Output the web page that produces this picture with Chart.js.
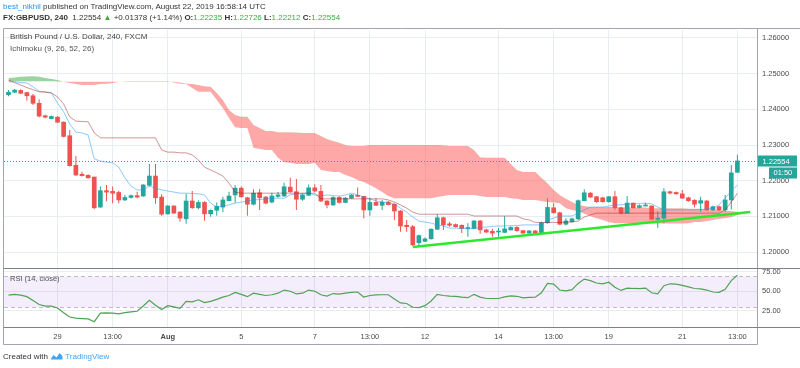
<!DOCTYPE html>
<html lang="en">
<head>
    <meta charset="UTF-8">
    <title>GBPUSD 240 - Ichimoku / RSI</title>
    <script src="https://cdn.jsdelivr.net/npm/chart.js"></script>
    <style>
        body { margin: 0; background: #fff; font-family: 'Liberation Sans', Arial, sans-serif; }
        #wrap { position: relative; width: 800px; height: 368px; overflow: hidden; background: #fff; }
        #chart { position: absolute; left: 0; top: 0; }
        .txt { position: absolute; font-size: 8px; line-height: 10px; white-space: nowrap; color: #333; }
        .g { color: #37b03c; }
        .b { font-weight: bold; }
    </style>
</head>
<body>
<div id="wrap">
    <canvas id="chart" width="800" height="368"></canvas>
    <div class="txt" style="left:3px;top:2px"><span style="color:#2196f3">best_nikhil</span> published on TradingView.com, August 22, 2019 16:58:14 UTC</div>
    <div class="txt" style="left:3px;top:13px"><span class="b">FX:GBPUSD, 240</span>&nbsp; 1.22554 <span class="g">&#9650;</span> +0.01378 (+1.14%) <span class="b">O:</span><span class="g">1.22235</span> <span class="b">H:</span><span class="g">1.22726</span> <span class="b">L:</span><span class="g">1.22212</span> <span class="b">C:</span><span class="g">1.22554</span></div>
    <div class="txt" style="left:10px;top:32px;color:#444">British Pound / U.S. Dollar, 240, FXCM</div>
    <div class="txt" style="left:10px;top:44px;color:#555">Ichimoku (9, 26, 52, 26)</div>
    <div class="txt" style="left:10px;top:274px;color:#555;font-size:7.5px">RSI (14, close)</div>
    <div class="txt" style="left:3px;top:352px">Created with <svg width="13" height="8" viewBox="0 0 13 8" style="vertical-align:-1px"><path d="M0.5 7.5 L3.5 3 L6.5 5.5 L9.5 1 L12.5 4 L12.5 7.5 Z" fill="#42a5f5"/></svg> <span style="color:#42a5f5">TradingView</span></div>
</div>

<script>
    // 4h candles, FX:GBPUSD (index 0 = 25 Jul, last = 22 Aug 13:00)
    const opens = [
        1.2441, 1.2448, 1.2453, 1.2447, 1.2438, 1.2417, 1.2382, 1.2374, 1.2378, 1.2364,
        1.2326, 1.2243, 1.2218, 1.2215, 1.2210, 1.2126, 1.2172, 1.2170, 1.2167, 1.2146,
        1.2153, 1.2158, 1.2157, 1.2187, 1.2213, 1.2154, 1.2107, 1.2129, 1.2112, 1.2093,
        1.2143, 1.2124, 1.2139, 1.2107, 1.2117, 1.2126, 1.2144, 1.2160, 1.2179, 1.2152,
        1.2134, 1.2166, 1.2154, 1.2140, 1.2156, 1.2157, 1.2182, 1.2169, 1.2148, 1.2159,
        1.2180, 1.2170, 1.2143, 1.2132, 1.2153, 1.2139, 1.2151, 1.2159, 1.2156, 1.2118,
        1.2139, 1.2131, 1.2140, 1.2134, 1.2115, 1.2075, 1.2071, 1.2026, 1.2030, 1.2037,
        1.2064, 1.2096, 1.2079, 1.2077, 1.2075, 1.2066, 1.2066, 1.2087, 1.2062, 1.2058,
        1.2056, 1.2055, 1.2062, 1.2069, 1.2060, 1.2053, 1.2059, 1.2053, 1.2082, 1.2124,
        1.2110, 1.2078, 1.2085, 1.2093, 1.2144, 1.2165, 1.2155, 1.2152, 1.2141, 1.2155,
        1.2124, 1.2109, 1.2137, 1.2125, 1.2129, 1.2129, 1.2092, 1.2095, 1.2169, 1.2167,
        1.2163, 1.2152, 1.2145, 1.2137, 1.2143, 1.2118, 1.2127, 1.2118, 1.2146, 1.22235
    ];
    const highs = [
        1.2454, 1.2457, 1.2456, 1.2449, 1.2443, 1.2428, 1.2385, 1.2383, 1.2381, 1.2366,
        1.2342, 1.2269, 1.2225, 1.2218, 1.2212, 1.2184, 1.2188, 1.2184, 1.2172, 1.2160,
        1.2161, 1.2169, 1.2190, 1.2247, 1.2247, 1.2162, 1.2132, 1.2131, 1.2114, 1.2163,
        1.2171, 1.2145, 1.2142, 1.2119, 1.2139, 1.2155, 1.2169, 1.2188, 1.2184, 1.2155,
        1.2176, 1.2177, 1.2157, 1.2166, 1.2168, 1.2194, 1.2208, 1.2205, 1.2163, 1.2189,
        1.2190, 1.2188, 1.2145, 1.2156, 1.2156, 1.2154, 1.2162, 1.2181, 1.2158, 1.2152,
        1.2151, 1.2146, 1.2143, 1.2136, 1.2117, 1.2090, 1.2076, 1.2049, 1.2041, 1.2066,
        1.2106, 1.2099, 1.2085, 1.2080, 1.2077, 1.2081, 1.2090, 1.2090, 1.2065, 1.2065,
        1.2067, 1.2100, 1.2072, 1.2072, 1.2062, 1.2062, 1.2062, 1.2085, 1.2151, 1.2137,
        1.2113, 1.2095, 1.2096, 1.2147, 1.2176, 1.2168, 1.2157, 1.2155, 1.2157, 1.2171,
        1.2127, 1.2157, 1.2139, 1.2133, 1.2138, 1.2131, 1.2114, 1.2179, 1.2172, 1.2170,
        1.2174, 1.2155, 1.2148, 1.2155, 1.2146, 1.2130, 1.2130, 1.2160, 1.2244, 1.22726
    ];
    const lows = [
        1.2437, 1.2446, 1.2443, 1.2424, 1.2412, 1.2378, 1.2375, 1.2372, 1.2362, 1.2322,
        1.2240, 1.2213, 1.2212, 1.2206, 1.2120, 1.2124, 1.2142, 1.2137, 1.2137, 1.2143,
        1.2150, 1.2151, 1.2155, 1.2184, 1.2135, 1.2102, 1.2105, 1.2107, 1.2085, 1.2079,
        1.2121, 1.2120, 1.2088, 1.2099, 1.2102, 1.2112, 1.2142, 1.2138, 1.2152, 1.2102,
        1.2131, 1.2118, 1.2134, 1.2137, 1.2152, 1.2155, 1.2166, 1.2118, 1.2144, 1.2157,
        1.2168, 1.2140, 1.2123, 1.2130, 1.2136, 1.2137, 1.2149, 1.2154, 1.2095, 1.2102,
        1.2129, 1.2118, 1.2131, 1.2090, 1.2057, 1.2057, 1.2017, 1.2017, 1.2028, 1.2035,
        1.2062, 1.2062, 1.2071, 1.2069, 1.2053, 1.2043, 1.2064, 1.2051, 1.2053, 1.2043,
        1.2043, 1.2053, 1.2060, 1.2057, 1.2051, 1.2051, 1.2051, 1.2051, 1.2079, 1.2108,
        1.2075, 1.2074, 1.2083, 1.2090, 1.2142, 1.2152, 1.2138, 1.2139, 1.2139, 1.2118,
        1.2106, 1.2107, 1.2122, 1.2123, 1.2128, 1.2090, 1.2068, 1.2081, 1.2162, 1.2161,
        1.2149, 1.2141, 1.2125, 1.2113, 1.2116, 1.2116, 1.2115, 1.2112, 1.2119, 1.22212
    ];
    const closes = [
        1.2448, 1.2454, 1.2445, 1.2438, 1.2417, 1.2381, 1.2378, 1.2380, 1.2364, 1.2324,
        1.2242, 1.2216, 1.2214, 1.2208, 1.2124, 1.2172, 1.2168, 1.2165, 1.2146, 1.2153,
        1.2158, 1.2154, 1.2188, 1.2213, 1.2152, 1.2106, 1.2129, 1.2109, 1.2095, 1.2143,
        1.2124, 1.2139, 1.2107, 1.2117, 1.2128, 1.2146, 1.2157, 1.2179, 1.2155, 1.2134,
        1.2165, 1.2152, 1.2137, 1.2157, 1.2160, 1.2183, 1.2169, 1.2148, 1.2160, 1.2180,
        1.2171, 1.2143, 1.2132, 1.2153, 1.2139, 1.2151, 1.2160, 1.2156, 1.2118, 1.2139,
        1.2131, 1.2140, 1.2133, 1.2115, 1.2073, 1.2071, 1.2020, 1.2046, 1.2037, 1.2064,
        1.2096, 1.2076, 1.2075, 1.2071, 1.2066, 1.2067, 1.2087, 1.2062, 1.2056, 1.2053,
        1.2058, 1.2065, 1.2069, 1.2060, 1.2053, 1.2059, 1.2053, 1.2082, 1.2125, 1.2110,
        1.2078, 1.2087, 1.2093, 1.2144, 1.2166, 1.2154, 1.2141, 1.2141, 1.2155, 1.2124,
        1.2109, 1.2137, 1.2124, 1.2130, 1.2131, 1.2092, 1.2095, 1.2169, 1.2165, 1.2163,
        1.2151, 1.2144, 1.2134, 1.2144, 1.2118, 1.2127, 1.2118, 1.2146, 1.2222, 1.22554
    ];

    // Ichimoku lines
    const tenkan = [
        1.2477, 1.2477, 1.2475, 1.2474, 1.2463, 1.2451, 1.2449, 1.2446, 1.2418, 1.2393,
        1.2359, 1.2336, 1.2334, 1.2328, 1.2261, 1.2255, 1.2252, 1.2250, 1.2238, 1.2208,
        1.2185, 1.2174, 1.2174, 1.2185, 1.2179, 1.2174, 1.2171, 1.2168, 1.2165, 1.2165,
        1.2164, 1.2163, 1.2160, 1.2137, 1.2126, 1.2129, 1.2132, 1.2137, 1.2140, 1.2143,
        1.2146, 1.2147, 1.2149, 1.2150, 1.2151, 1.2151, 1.2160, 1.2163, 1.2164, 1.2165,
        1.2160, 1.2157, 1.2160, 1.2158, 1.2157, 1.2160, 1.2165, 1.2160, 1.2154, 1.2149,
        1.2143, 1.2140, 1.2137, 1.2135, 1.2123, 1.2112, 1.2098, 1.2087, 1.2084, 1.2081,
        1.2076, 1.2073, 1.2067, 1.2067, 1.2066, 1.2065, 1.2066, 1.2069, 1.2070, 1.2072,
        1.2073, 1.2073, 1.2074, 1.2074, 1.2076, 1.2076, 1.2076, 1.2076, 1.2090, 1.2095,
        1.2101, 1.2101, 1.2101, 1.2109, 1.2118, 1.2126, 1.2126, 1.2126, 1.2129, 1.2132,
        1.2132, 1.2135, 1.2135, 1.2136, 1.2137, 1.2135, 1.2126, 1.2118, 1.2118, 1.2118,
        1.2118, 1.2118, 1.2118, 1.2119, 1.2121, 1.2123, 1.2132, 1.2151, 1.2171, 1.2188
    ];
    const kijun = [
        1.2482, 1.2475, 1.2468, 1.2461, 1.2455, 1.2449, 1.2448, 1.2446, 1.2435, 1.2415,
        1.2379, 1.2367, 1.2366, 1.2365, 1.2334, 1.2320, 1.2320, 1.2320, 1.2320, 1.2320,
        1.2320, 1.2320, 1.2320, 1.2320, 1.2320, 1.2286, 1.2280, 1.2280, 1.2278, 1.2278,
        1.2272, 1.2258, 1.2238, 1.2230, 1.2222, 1.2213, 1.2193, 1.2168, 1.2165, 1.2165,
        1.2165, 1.2165, 1.2165, 1.2165, 1.2165, 1.2165, 1.2165, 1.2165, 1.2165, 1.2165,
        1.2165, 1.2149, 1.2149, 1.2149, 1.2149, 1.2149, 1.2149, 1.2149, 1.2149, 1.2149,
        1.2149, 1.2149, 1.2146, 1.2140, 1.2132, 1.2123, 1.2112, 1.2106, 1.2106, 1.2106,
        1.2106, 1.2106, 1.2106, 1.2106, 1.2106, 1.2106, 1.2101, 1.2101, 1.2101, 1.2101,
        1.2101, 1.2101, 1.2101, 1.2101, 1.2093, 1.2090, 1.2083, 1.2083, 1.2083, 1.2083,
        1.2083, 1.2084, 1.2084, 1.2087, 1.2098, 1.2104, 1.2109, 1.2109, 1.2109, 1.2109,
        1.2109, 1.2109, 1.2109, 1.2109, 1.2109, 1.2109, 1.2109, 1.2109, 1.2109, 1.2109,
        1.2109, 1.2109, 1.2109, 1.2109, 1.2109, 1.2109, 1.2109, 1.2118, 1.2140, 1.2165
    ];
    // cloud (leading spans, already shifted 26 bars), two bars longer than the candles
    const spanA = [
        1.2488, 1.2489, 1.2491, 1.2492, 1.2493, 1.2491, 1.2488, 1.2485, 1.2482, 1.2477,
        1.2474, 1.2471, 1.2468, 1.2468, 1.2468, 1.2471, 1.2472, 1.2474, 1.2477, 1.2478,
        1.2479, 1.2479, 1.2479, 1.2479, 1.2479, 1.2479, 1.2479, 1.2475, 1.2472, 1.2471,
        1.2460, 1.2449, 1.2449, 1.2449, 1.2426, 1.2404, 1.2376, 1.2350, 1.2348, 1.2348,
        1.2292, 1.2289, 1.2286, 1.2286, 1.2264, 1.2252, 1.2250, 1.2247, 1.2247, 1.2247,
        1.2250, 1.2230, 1.2227, 1.2224, 1.2224, 1.2216, 1.2210, 1.2202, 1.2196, 1.2188,
        1.2179, 1.2168, 1.2157, 1.2151, 1.2151, 1.2151, 1.2151, 1.2151, 1.2151, 1.2151,
        1.2154, 1.2157, 1.2160, 1.2160, 1.2160, 1.2160, 1.2160, 1.2157, 1.2154, 1.2154,
        1.2154, 1.2154, 1.2151, 1.2149, 1.2146, 1.2146, 1.2146, 1.2143, 1.2140, 1.2139,
        1.2137, 1.2123, 1.2118, 1.2115, 1.2107, 1.2101, 1.2095, 1.2090, 1.2084, 1.2081,
        1.2081, 1.2081, 1.2081, 1.2081, 1.2081, 1.2080, 1.2080, 1.2080, 1.2080, 1.2080,
        1.2080, 1.2081, 1.2084, 1.2084, 1.2087, 1.2090, 1.2093, 1.2095, 1.2098, 1.2104,
        1.2108, 1.2111
    ];
    const spanB = [
        1.2479, 1.2479, 1.2479, 1.2479, 1.2479, 1.2479, 1.2479, 1.2479, 1.2478, 1.2477,
        1.2477, 1.2477, 1.2477, 1.2477, 1.2477, 1.2477, 1.2477, 1.2477, 1.2477, 1.2477,
        1.2477, 1.2477, 1.2477, 1.2477, 1.2477, 1.2477, 1.2477, 1.2477, 1.2475, 1.2472,
        1.2471, 1.2468, 1.2465, 1.2463, 1.2446, 1.2426, 1.2398, 1.2384, 1.2379, 1.2379,
        1.2356, 1.2348, 1.2339, 1.2339, 1.2336, 1.2336, 1.2336, 1.2335, 1.2334, 1.2334,
        1.2334, 1.2325, 1.2317, 1.2311, 1.2306, 1.2300, 1.2297, 1.2297, 1.2297, 1.2300,
        1.2300, 1.2300, 1.2300, 1.2300, 1.2300, 1.2300, 1.2300, 1.2300, 1.2300, 1.2300,
        1.2300, 1.2299, 1.2297, 1.2297, 1.2297, 1.2297, 1.2286, 1.2266, 1.2264, 1.2264,
        1.2264, 1.2264, 1.2247, 1.2230, 1.2224, 1.2224, 1.2224, 1.2208, 1.2193, 1.2174,
        1.2160, 1.2149, 1.2140, 1.2132, 1.2129, 1.2126, 1.2126, 1.2126, 1.2126, 1.2126,
        1.2125, 1.2125, 1.2125, 1.2125, 1.2125, 1.2123, 1.2123, 1.2123, 1.2123, 1.2123,
        1.2123, 1.2121, 1.2121, 1.2121, 1.2119, 1.2118, 1.2118, 1.2115, 1.2115, 1.2112,
        1.2112, 1.2111
    ];

    // RSI (14, close)
    const rsiVals = [
        45, 46, 45, 43, 38, 33, 31, 31, 28.5, 22.5,
        17, 15.5, 15, 14.5, 11, 22, 22.3, 22, 21, 22.5,
        23.6, 24.3, 31, 38.5, 32, 26.6, 31.5, 30, 28, 37,
        36.4, 39, 35.5, 37, 39.5, 42.5, 44.5, 48.5, 46, 43,
        47.5, 46, 44.5, 45.5, 47.5, 51.5, 50, 46.5, 47.5, 51.5,
        50, 45.5, 43.8, 47, 46.2, 47.5, 48.5, 49, 42.5, 44.5,
        45.3, 45.5, 45.5, 40, 35, 34.3, 29.5, 29, 31.5, 37.5,
        46, 44.5, 43.6, 43.5, 42.5, 41.7, 46, 42.5, 40.7, 40.7,
        40.7, 42.7, 44, 43.5, 41.5, 42, 42.3, 48, 60, 59,
        51.5, 50.5, 52, 60, 65.5, 63.5, 60.5, 59.5, 61.5, 55,
        51, 54, 53.5, 53.3, 54, 48, 46.5, 57, 59.5, 59,
        57.5, 55.5, 53.5, 53, 51.5, 49, 48.5, 52.5, 63.5, 70.5
    ];
    const rsiBand = [30, 70];

    // trend line drawn on the chart (bar position, price)
    const trendX = [66.0, 121.1];
    const trendY = [1.2014, 1.2112];

    // axis ticks
    const xTickIdx = [8, 17, 26, 38, 50, 59, 68, 80, 89, 98, 110, 119];
    const xTickLabels = ['29', '13:00', 'Aug', '5', '7', '13:00', '12', '14', '13:00', '19', '21', '13:00'];
    const priceTicks = [1.20, 1.21, 1.22, 1.23, 1.24, 1.25, 1.26];
    const rsiTicks = [25, 50, 75];
    const lastPrice = 1.22554;
    const countdown = '01:50';

    const FONT = "'Liberation Sans', Arial, sans-serif";
    const GRID = '#e8edf2';
    const GREEN = '#26a69a';
    const RED = '#ef5350';

    const idx = opens.map((_, i) => i);
    const candleColors = closes.map((c, i) => c >= opens[i] ? GREEN : RED);
    const pts = arr => arr.map((v, i) => ({x: i, y: v}));

    // rsi band, pane borders and the last price marker
    const panes = {
        id: 'panes',
        beforeDatasetsDraw(chart) {
            const {ctx, chartArea: a} = chart;
            const r = chart.scales.rsi;
            const top = Math.round(r.getPixelForValue(rsiBand[1])) + 0.5;
            const bot = Math.round(r.getPixelForValue(rsiBand[0])) + 0.5;
            ctx.save();
            ctx.fillStyle = 'rgba(150, 80, 230, 0.1)';
            ctx.fillRect(a.left, top, a.right - a.left, bot - top);
            ctx.strokeStyle = '#c9b6cf';
            ctx.lineWidth = 1;
            ctx.setLineDash([4, 3]);
            [top, bot].forEach(yy => {
                ctx.beginPath();
                ctx.moveTo(a.left, yy);
                ctx.lineTo(a.right, yy);
                ctx.stroke();
            });
            ctx.restore();
        },
        afterDraw(chart) {
            const {ctx, chartArea: a} = chart;
            const y = chart.scales.y, r = chart.scales.rsi;
            const line = (x1, y1, x2, y2) => {
                ctx.beginPath();
                ctx.moveTo(x1, y1);
                ctx.lineTo(x2, y2);
                ctx.stroke();
            };
            ctx.save();
            ctx.lineWidth = 1;

            // dotted last price line
            const yp = Math.round(y.getPixelForValue(lastPrice)) + 0.5;
            ctx.strokeStyle = GREEN;
            ctx.setLineDash([1, 2]);
            line(a.left, yp, a.right, yp);
            ctx.setLineDash([]);

            // frame
            const ax = Math.round(a.right) + 0.5;
            ctx.strokeStyle = '#a2a5ab';
            line(3.5, 28.5, 800, 28.5);
            line(3.5, 28.5, 3.5, 344.5);
            line(3.5, 344.5, ax, 344.5);
            line(ax, 28.5, ax, 344.5);
            ctx.strokeStyle = '#7d8087';
            line(3.5, Math.round(r.top) + 0.5, 800, Math.round(r.top) + 0.5);
            line(3.5, Math.round(a.bottom) + 0.5, 800, Math.round(a.bottom) + 0.5);

            // price label + bar countdown
            ctx.fillStyle = GREEN;
            ctx.fillRect(ax + 0.5, yp - 6, 39, 11);
            ctx.fillRect(ax + 11.5, yp + 6, 28, 11);
            ctx.fillStyle = '#fff';
            ctx.font = '7.5px ' + FONT;
            ctx.textBaseline = 'middle';
            ctx.fillText(lastPrice.toFixed(5), ax + 5, yp);
            ctx.fillText(countdown, ax + 16, yp + 11.5);
            ctx.restore();
        }
    };

    const lineDs = (label, data, color, width, order, axis) => ({
        type: 'line', label: label, data: data, yAxisID: axis || 'y',
        borderColor: color, borderWidth: width, pointRadius: 0, tension: 0, fill: false, order: order
    });

    const chart = new Chart(document.getElementById('chart'), {
        type: 'bar',
        data: {
            datasets: [
                {
                    type: 'line', label: 'Leading Span A', data: pts(spanA),
                    borderColor: 'rgba(0,0,0,0)', borderWidth: 0, pointRadius: 0,
                    fill: {target: '+1', above: 'rgba(76, 175, 80, 0.55)', below: 'rgba(255, 82, 82, 0.5)'},
                    order: 10
                },
                {
                    type: 'line', label: 'Leading Span B', data: pts(spanB),
                    borderColor: 'rgba(0,0,0,0)', borderWidth: 0, pointRadius: 0, fill: false, order: 10
                },
                {
                    label: 'Wicks', data: idx.map(i => ({x: i, y: [lows[i], highs[i]]})),
                    backgroundColor: candleColors, grouped: false,
                    barThickness: 1, maxBarThickness: 1, inflateAmount: 0, order: 4
                },
                {
                    label: 'Bodies', data: idx.map(i => ({x: i, y: [opens[i], closes[i]]})),
                    backgroundColor: candleColors, grouped: false,
                    barThickness: 4, maxBarThickness: 4, minBarLength: 1, order: 3
                },
                lineDs('Base Line', pts(kijun), 'rgba(153, 21, 21, 0.45)', 1, 2),
                lineDs('Conversion Line', pts(tenkan), 'rgba(33, 150, 243, 0.5)', 1, 2),
                lineDs('Trend', trendX.map((v, i) => ({x: v, y: trendY[i]})), '#2ee82e', 2.5, 1),
                lineDs('RSI', pts(rsiVals), '#4fa354', 1.2, 1, 'rsi')
            ]
        },
        options: {
            responsive: false,
            animation: false,
            devicePixelRatio: 1,
            layout: {padding: {top: 30, left: 4, right: 0, bottom: 23}},
            plugins: {legend: {display: false}, tooltip: {enabled: false}},
            scales: {
                x: {
                    type: 'linear', min: -0.735, max: 122.2, offset: false,
                    afterBuildTicks: s => { s.ticks = xTickIdx.map(v => ({value: v})); },
                    afterFit: s => { s.height = 18; },
                    grid: {color: GRID, drawTicks: false, offset: false},
                    border: {display: false},
                    ticks: {
                        autoSkip: false, maxRotation: 0, padding: 5, color: '#4a4a4a',
                        font: c => ({family: FONT, size: 7.5, weight: c.index === 2 ? 'bold' : 'normal'}),
                        callback: (v, i) => xTickLabels[i]
                    }
                },
                y: {
                    type: 'linear', position: 'right', stack: 'pane', stackWeight: 238, offset: false,
                    min: 1.19552, max: 1.26224, beginAtZero: false,
                    afterBuildTicks: s => { s.ticks = priceTicks.map(v => ({value: v})); },
                    afterFit: s => { s.width = 43; },
                    grid: {color: GRID, drawTicks: false},
                    border: {display: false},
                    ticks: {padding: 5, color: '#4a4a4a', font: {family: FONT, size: 7.5}, callback: v => v.toFixed(5)}
                },
                rsi: {
                    type: 'linear', position: 'right', stack: 'pane', stackWeight: 59, offset: false,
                    min: 4.2, max: 79.7, beginAtZero: false,
                    afterBuildTicks: s => { s.ticks = rsiTicks.map(v => ({value: v})); },
                    afterFit: s => { s.width = 43; },
                    grid: {color: GRID, drawTicks: false},
                    border: {display: false},
                    ticks: {padding: 5, color: '#4a4a4a', font: {family: FONT, size: 7.5}, callback: v => v.toFixed(2)}
                }
            }
        },
        plugins: [panes]
    });
</script>
</body>
</html>
